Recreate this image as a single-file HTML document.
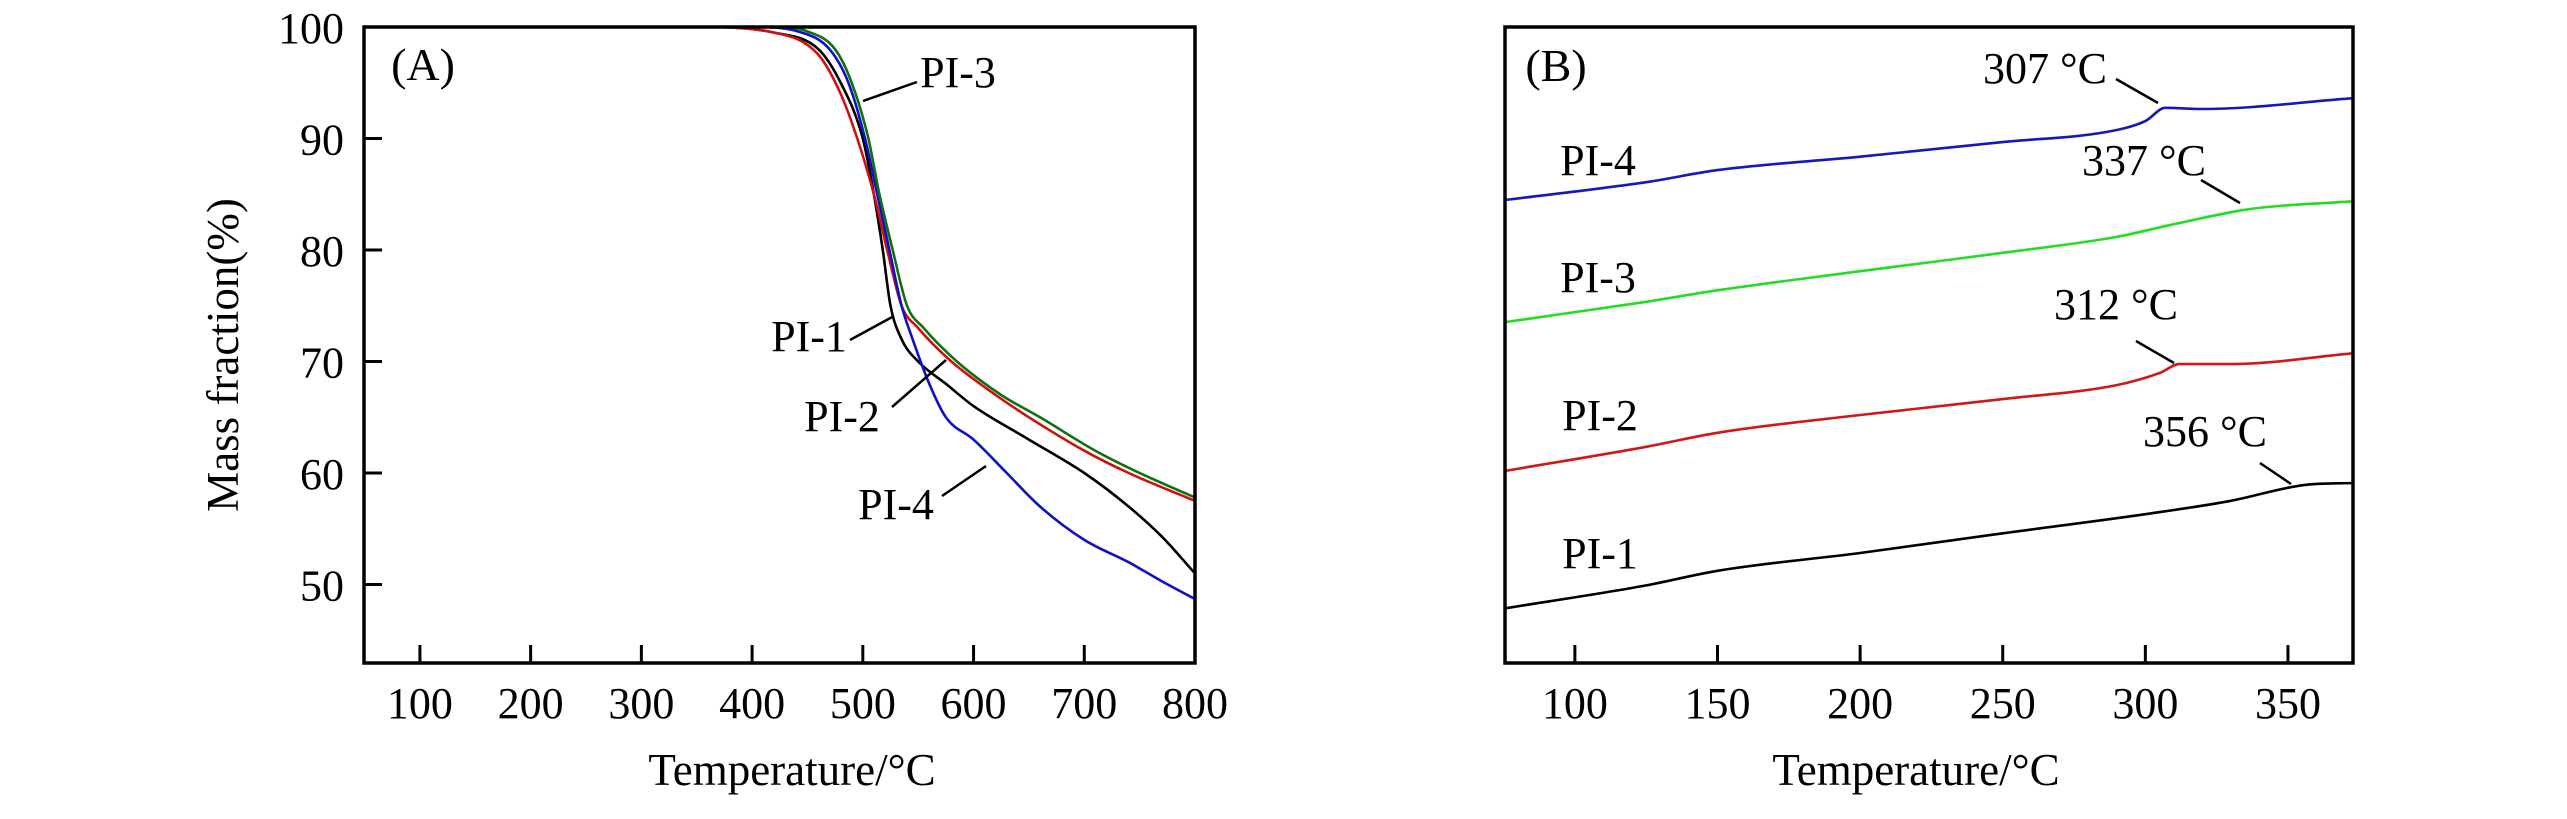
<!DOCTYPE html>
<html><head><meta charset="utf-8"><style>
html,body{margin:0;padding:0;background:#fff}
svg{display:block;font-family:"Liberation Serif",serif}
</style></head><body>
<svg id="chart" width="2567" height="819" viewBox="0 0 2567 819" xmlns="http://www.w3.org/2000/svg">
<rect width="2567" height="819" fill="#fff"/>
<g id="panelA"></g>
<g id="panelB"></g>
</svg>
<script>
// Panel A (TGA) data
const aTicksX = [100,200,300,400,500,600,700,800];
const aTicksY = [50,60,70,80,90,100];
const aPI1T = [50,350,420,460,480,500,510,518,525,535,550,575,600,650,700,740,770,800];
const aPI1M = [100,100,99.5,98,95,90,85,80,75,72,70,68,66,63,60,57,54.3,51];
const aPI2T = [50,350,420,460,480,495,510,522,535,550,580,620,650,700,740,800];
const aPI2M = [100,100,99.5,97.5,94,90,85,80,75,73,70,67,65,62,60,57.5];
const aPI3T = [50,420,450,475,490,505,515,527,540,555,585,625,660,710,750,800];
const aPI3M = [100,100,99.6,98,95,90,85,80,75,73,70,67,65,62,60,57.8];
const aPI4T = [50,400,445,470,487,502,513,524,535,545,560,575,600,630,660,700,740,770,800];
const aPI4M = [100,100,99.5,98,95,90,85,80,75,72,68,65,63,60,57,54,52,50.3,48.7];
// Panel B (DSC) data (relative heat flow, arbitrary units)
const bTicksX = [100,150,200,250,300,350];
const bPI1T = [75.5,125,150,200,250,300,330,356,372.8];
const bPI1V = [8.6,12.2,14.5,17.3,20.4,23.4,25.5,28,28.3];
const bPI2T = [75.5,125,150,200,250,290,305,312,330,372.8];
const bPI2V = [30.2,34,36.2,39,41.5,43.7,45.6,47,47,48.7];
const bPI3T = [75.5,125,150,200,250,290,310,337,372.8];
const bPI3V = [53.6,56.8,58.6,61.6,64.5,67,69,71.4,72.6];
const bPI4T = [75.5,125,150,200,250,290,300,307,320,372.8];
const bPI4V = [72.8,75.6,77.5,79.6,81.9,83.8,85.2,87.3,87.1,88.8];

const NS='http://www.w3.org/2000/svg';
function mk(parent,tag,attrs){const e=document.createElementNS(NS,tag);for(const k in attrs)e.setAttribute(k,attrs[k]);parent.appendChild(e);return e;}
function txt(parent,x,y,s,anchor,size){const t=mk(parent,'text',{x:x,y:y,'text-anchor':anchor||'middle','font-size':size||44,fill:'#000'});t.textContent=s;return t;}

const A={l:364,r:1195,t:27,b:663,x0:49.5,x1:800,y0:42.96,y1:100};
const ax=v=>A.l+(v-A.x0)/(A.x1-A.x0)*(A.r-A.l);
const ay=v=>A.b-(v-A.y0)/(A.y1-A.y0)*(A.b-A.t);
const B={l:1505,r:2353,t:27,b:663,x0:75.5,x1:372.8,y0:0,y1:100};
const bx=v=>B.l+(v-B.x0)/(B.x1-B.x0)*(B.r-B.l);
const by=v=>B.b-(v-B.y0)/(B.y1-B.y0)*(B.b-B.t);

function pathD(xs,ys,fx,fy){
  const X=xs.map(fx),Y=ys.map(fy),n=X.length;
  const d=[],m=[];
  for(let i=0;i<n-1;i++)d.push((Y[i+1]-Y[i])/(X[i+1]-X[i]));
  m[0]=d[0];m[n-1]=d[n-2];
  for(let i=1;i<n-1;i++){m[i]=(d[i-1]*d[i]<=0)?0:(d[i-1]+d[i])/2;}
  for(let i=0;i<n-1;i++){
    if(d[i]===0){m[i]=0;m[i+1]=0;continue;}
    const a=m[i]/d[i],b=m[i+1]/d[i],s=a*a+b*b;
    if(s>9){const t=3/Math.sqrt(s);m[i]=t*a*d[i];m[i+1]=t*b*d[i];}
  }
  let p='M'+X[0].toFixed(1)+','+Y[0].toFixed(1);
  for(let i=0;i<n-1;i++){
    const h=(X[i+1]-X[i])/3;
    p+=' C'+(X[i]+h).toFixed(1)+','+(Y[i]+m[i]*h).toFixed(1)+' '+(X[i+1]-h).toFixed(1)+','+(Y[i+1]-m[i+1]*h).toFixed(1)+' '+X[i+1].toFixed(1)+','+Y[i+1].toFixed(1);
  }
  return p;
}

const gA=document.getElementById('panelA');
const seriesA=[[aPI1T,aPI1M,'#000','pi-1'],[aPI2T,aPI2M,'#d01010','pi-2'],[aPI4T,aPI4M,'#1010c8','pi-4'],[aPI3T,aPI3M,'#107010','pi-3']];
seriesA.forEach(s=>{
  const p=mk(gA,'path',{d:pathD(s[0],s[1],ax,ay),fill:'none',stroke:s[2],'stroke-width':2.6,'stroke-linejoin':'round'});
  
  
});
const frA=mk(gA,'rect',{x:A.l,y:A.t,width:A.r-A.l,height:A.b-A.t,fill:'none',stroke:'#000','stroke-width':3.5});


aTicksX.forEach(v=>{
  const x=ax(v);
  const tk=mk(gA,'line',{x1:x,y1:A.b,x2:x,y2:A.b-18,stroke:'#000','stroke-width':3});
  
  
  const t=txt(gA,x,718,String(v));
  
  
});
aTicksY.forEach(v=>{
  const y=ay(v);
  const tk=mk(gA,'line',{x1:A.l,y1:y,x2:A.l+18,y2:y,stroke:'#000','stroke-width':3});
  
  
  const t=txt(gA,344,y+16,String(v),'end');
  
  
});
</script>
<script>
(function(){
const gA=document.getElementById('panelA');
const gB=document.getElementById('panelB');
let t;
t=txt(gA,792,785,'Temperature/°C',null,45);


t=txt(gA,0,0,'Mass fraction(%)',null,45);
t.setAttribute('transform','translate(238,355) rotate(-90)');


t=txt(gA,423,80,'(A)',null,46);


const annA=[['PI-3',958,87,863,101,917,82],['PI-1',809,351,850,340,894,316],['PI-2',842,431,892,407,946,360],['PI-4',896,519,942,496,986,466]];
annA.forEach(a=>{
  const tt=txt(gA,a[1],a[2],a[0],null,44);
  
  
  const ln=mk(gA,'line',{x1:a[3],y1:a[4],x2:a[5],y2:a[6],stroke:'#000','stroke-width':2.5});
  
  
});

const seriesB=[[bPI1T,bPI1V,'#000','pi-1'],[bPI2T,bPI2V,'#d01818','pi-2'],[bPI3T,bPI3V,'#22dd22','pi-3'],[bPI4T,bPI4V,'#1818b8','pi-4']];
seriesB.forEach(s=>{
  const p=mk(gB,'path',{d:pathD(s[0],s[1],bx,by),fill:'none',stroke:s[2],'stroke-width':2.6,'stroke-linejoin':'round'});
  
  
});
const frB=mk(gB,'rect',{x:B.l,y:B.t,width:B.r-B.l,height:B.b-B.t,fill:'none',stroke:'#000','stroke-width':3.5});


bTicksX.forEach(v=>{
  const x=bx(v);
  const tk=mk(gB,'line',{x1:x,y1:B.b,x2:x,y2:B.b-18,stroke:'#000','stroke-width':3});
  
  
  const tl=txt(gB,x,718,String(v));
  
  
});
t=txt(gB,1916,785,'Temperature/°C',null,45);


t=txt(gB,1556,81,'(B)',null,46);


[['PI-4',1598,175],['PI-3',1598,292],['PI-2',1600,430],['PI-1',1600,568]].forEach(a=>{
  const tt=txt(gB,a[1],a[2],a[0],null,44);
  
  
});
[['307 °C',2045,83,2116,79,2158,103],['337 °C',2144,175,2201,180,2240,203],['312 °C',2116,319,2136,341,2174,363],['356 °C',2205,446,2260,463,2291,484]].forEach(a=>{
  const tt=txt(gB,a[1],a[2],a[0],null,44);
  
  
  const ln=mk(gB,'line',{x1:a[3],y1:a[4],x2:a[5],y2:a[6],stroke:'#000','stroke-width':2.5});
  
  
});
})();
</script>
</body></html>
